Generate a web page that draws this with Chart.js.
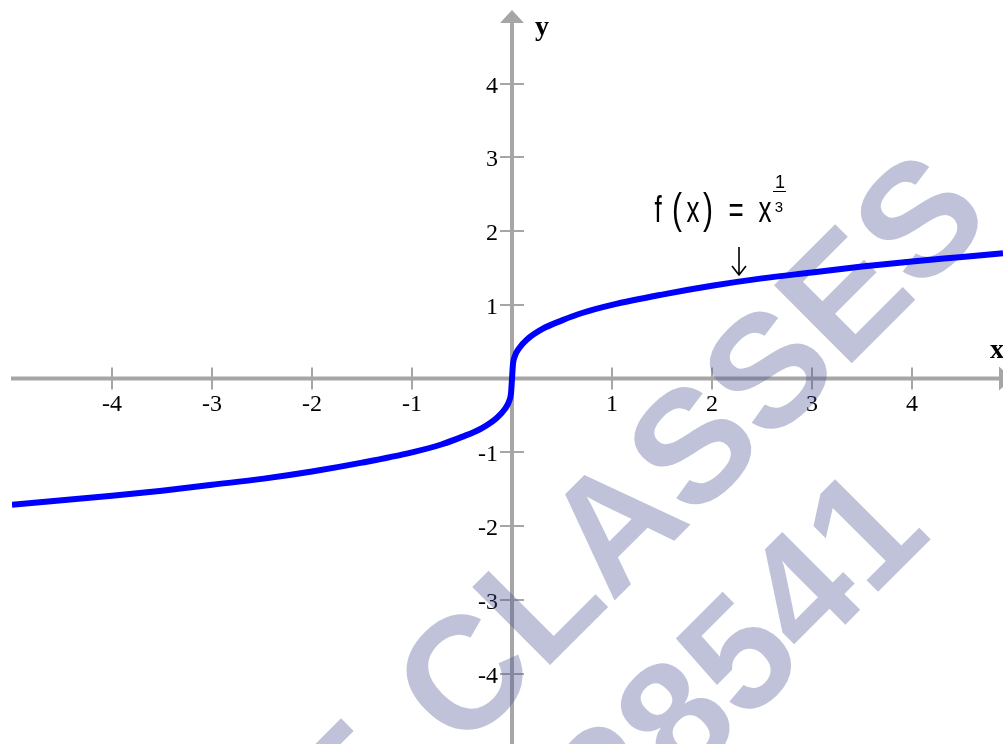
<!DOCTYPE html>
<html><head><meta charset="utf-8">
<script src="https://cdn.jsdelivr.net/npm/chart.js@4.4.0/dist/chart.umd.min.js"></script>
<style>html,body{margin:0;padding:0;background:#fff;overflow:hidden}#wrap{position:relative;width:1003px;height:744px}</style>
</head><body><div id="wrap"><canvas id="c"></canvas></div>
<script>
// ---- data ----
const xValues = [-5, -4.5, -4, -3.5, -3, -2.5, -2, -1.5, -1, -0.7, -0.5, -0.3, -0.15, -0.07, -0.03, -0.01, 0, 0.01, 0.03, 0.07, 0.15, 0.3, 0.5, 0.7, 1, 1.5, 2, 2.5, 3, 3.5, 4, 4.5, 4.91];
const yValues = [-1.71, -1.65, -1.59, -1.52, -1.44, -1.36, -1.26, -1.14, -1.00, -0.89, -0.79, -0.67, -0.53, -0.41, -0.31, -0.20, 0, 0.20, 0.31, 0.41, 0.53, 0.67, 0.79, 0.89, 1.00, 1.14, 1.26, 1.36, 1.44, 1.52, 1.59, 1.65, 1.70];
const xTickValues = [-4, -3, -2, -1, 1, 2, 3, 4];
const xTickLabels = ['-4', '-3', '-2', '-1', '1', '2', '3', '4'];
const yTickValues = [4, 3, 2, 1, -1, -2, -3, -4];
const yTickLabels = ['4', '3', '2', '1', '-1', '-2', '-3', '-4'];
const axisTitleX = 'x';
const axisTitleY = 'y';
const formulaText = ['f', '(', 'x', ')', '=', 'x'];
const formulaExpNum = '1';
const formulaExpDen = '3';
const annotationX = 2.27;
const watermarkLead = 'T';
const watermarkWord = 'CLASSES';
const watermarkNumber = '28541';

const AXIS = '#a6a6a6';
const WM = 'rgba(72,81,144,0.35)';

const axesPlugin = {
  id: 'axesPlugin',
  beforeDatasetsDraw(chart) {
    const ctx = chart.ctx;
    const xs = chart.scales.x, ys = chart.scales.y;
    const x0 = xs.getPixelForValue(0), y0 = ys.getPixelForValue(0);
    const xEnd = xs.getPixelForValue(5), yEnd = ys.getPixelForValue(5);
    ctx.save();
    // axis lines
    ctx.strokeStyle = AXIS; ctx.lineWidth = 4; ctx.lineCap = 'butt';
    ctx.beginPath();
    ctx.moveTo(xs.getPixelForValue(-5) - 1, y0); ctx.lineTo(xEnd - 12, y0);
    ctx.moveTo(x0, chart.height + 2); ctx.lineTo(x0, yEnd + 12);
    ctx.stroke();
    // arrow heads
    ctx.fillStyle = AXIS;
    ctx.beginPath();
    ctx.moveTo(x0, yEnd); ctx.lineTo(x0 - 12, yEnd + 13); ctx.lineTo(x0 + 12, yEnd + 13); ctx.closePath();
    ctx.fill();
    ctx.beginPath();
    ctx.moveTo(xEnd, y0); ctx.lineTo(xEnd - 13, y0 - 12); ctx.lineTo(xEnd - 13, y0 + 12); ctx.closePath();
    ctx.fill();
    // tick crosses
    ctx.lineWidth = 2;
    ctx.beginPath();
    xTickValues.forEach(v => { const p = Math.round(xs.getPixelForValue(v)); ctx.moveTo(p, y0 - 11); ctx.lineTo(p, y0 + 11); });
    yTickValues.forEach(v => { const p = Math.round(ys.getPixelForValue(v)); ctx.moveTo(x0 - 12, p); ctx.lineTo(x0 + 12, p); });
    ctx.stroke();
    // tick labels
    ctx.fillStyle = '#000';
    ctx.font = '24px "Liberation Serif"';
    ctx.textAlign = 'center'; ctx.textBaseline = 'alphabetic';
    xTickValues.forEach((v, i) => ctx.fillText(xTickLabels[i], xs.getPixelForValue(v), y0 + 32));
    ctx.textAlign = 'right';
    yTickValues.forEach((v, i) => ctx.fillText(yTickLabels[i], x0 - 14, ys.getPixelForValue(v) + 9));
    // axis titles
    ctx.font = 'bold 28px "Liberation Serif"';
    ctx.textAlign = 'left';
    ctx.fillText(axisTitleY, x0 + 23, yEnd + 25);
    ctx.fillText(axisTitleX, xEnd - 22, y0 - 21);
    // formula annotation
    const ax = xs.getPixelForValue(annotationX);
    const base = 222;
    const parts = [
      {t: formulaText[0], cx: ax - 81, size: 26},
      {t: formulaText[1], cx: ax - 62, size: 30},
      {t: formulaText[2], cx: ax - 46, size: 26},
      {t: formulaText[3], cx: ax - 31, size: 30},
      {t: formulaText[4], cx: ax - 3, size: 26},
      {t: formulaText[5], cx: ax + 26, size: 26}
    ];
    ctx.textAlign = 'center';
    parts.forEach(p => {
      ctx.save();
      ctx.translate(p.cx, base + (p.size === 30 ? 1 : 0));
      ctx.scale(1, 1.4);
      ctx.font = p.size + 'px "Liberation Sans"';
      ctx.fillText(p.t, 0, 0);
      ctx.restore();
    });
    ctx.font = '18px "Liberation Sans"';
    ctx.fillText(formulaExpNum, ax + 41, 188);
    ctx.font = '15px "Liberation Sans"';
    ctx.fillText(formulaExpDen, ax + 40, 212);
    ctx.strokeStyle = '#000'; ctx.lineWidth = 1;
    ctx.beginPath(); ctx.moveTo(ax + 34, 191.5); ctx.lineTo(ax + 47, 191.5); ctx.stroke();
    // arrow
    ctx.lineWidth = 1.6;
    ctx.beginPath();
    ctx.moveTo(ax, 247); ctx.lineTo(ax, 274);
    ctx.moveTo(ax - 7, 266); ctx.lineTo(ax, 275); ctx.lineTo(ax + 7, 266);
    ctx.stroke();
    // watermark
    ctx.fillStyle = WM;
    ctx.font = 'bold 160px "Liberation Sans"';
    ctx.textBaseline = 'alphabetic';
    const ang = -45 * Math.PI / 180;
    const drawWm = (txt, px, py, align) => {
      ctx.save(); ctx.translate(px, py); ctx.rotate(ang); ctx.textAlign = align; ctx.fillText(txt, 0, 0); ctx.restore();
    };
    drawWm(watermarkWord, 728, 487, 'center');
    drawWm(watermarkLead, 420, 795, 'right');
    drawWm(watermarkNumber, 934, 536, 'right');
    ctx.restore();
  }
};

new Chart(document.getElementById('c'), {
  type: 'scatter',
  data: {
    datasets: [{
      data: xValues.map((x, i) => ({x: x, y: yValues[i]})),
      showLine: true,
      borderColor: '#0000ff',
      borderWidth: 6,
      pointRadius: 0,
      fill: false,
      cubicInterpolationMode: 'monotone'
    }]
  },
  options: {
    responsive: true,
    maintainAspectRatio: false,
    animation: false,
    devicePixelRatio: 1,
    layout: {padding: {left: 12, top: 10, right: 0, bottom: 0}},
    plugins: {legend: {display: false}, tooltip: {enabled: false}},
    scales: {
      x: {type: 'linear', min: -5, max: 4.91, display: false},
      y: {type: 'linear', min: -4.956, max: 5, display: false}
    }
  },
  plugins: [axesPlugin]
});
</script>
</body></html>
